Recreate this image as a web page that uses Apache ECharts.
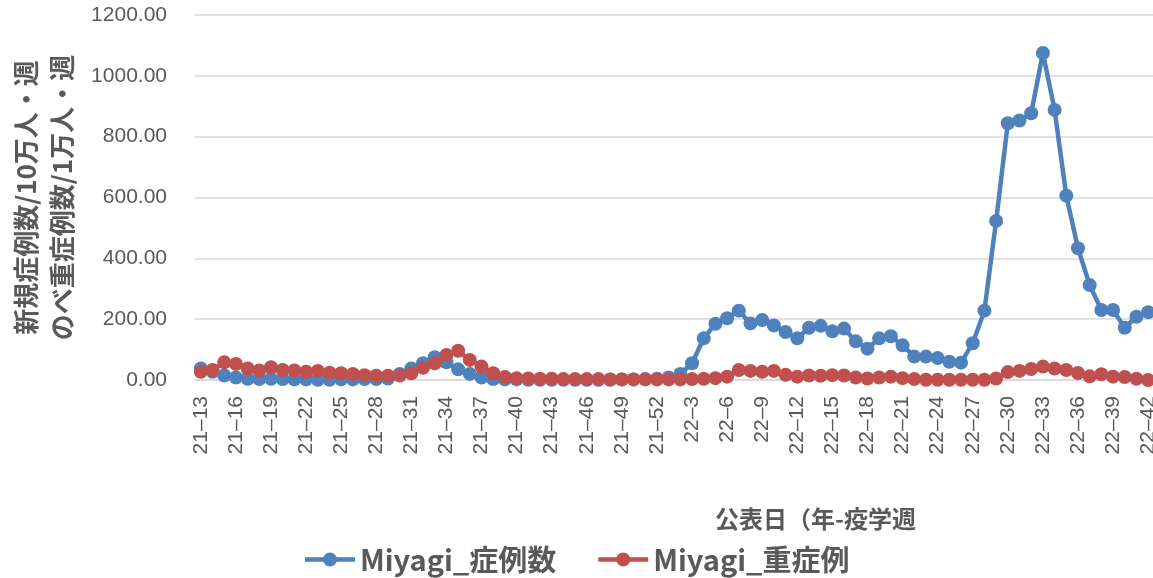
<!DOCTYPE html>
<html>
<head>
<meta charset="utf-8">
<script src="https://cdn.jsdelivr.net/npm/echarts@6/dist/echarts.min.js"></script>
<style>
html,body{margin:0;padding:0;background:#fff;}
#main{width:1153px;height:578px;}
</style>
</head>
<body>
<div id="main"></div>
<script>
// weeks: 21-13 .. 21-52, 22-1 .. 22-42
var weeks = [];
for (var w = 13; w <= 52; w++) weeks.push('21\u2013' + w);
for (var w2 = 1; w2 <= 42; w2++) weeks.push('22\u2013' + w2);

var seriesNames = ['Miyagi_症例数', 'Miyagi_重症例'];

// Miyagi_症例数 (per 100k per week)
var cases = [
  38, 27, 15, 8, 4, 3, 4, 3, 2, 2,
  1, 1, 2, 2, 3, 3, 5, 20, 38, 55,
  75, 58, 35, 20, 8, 3, 2, 2, 1, 1,
  1, 1, 1, 1, 1, 1, 2, 2, 3, 4,
  8, 20, 55, 137, 185, 203, 228, 186, 197, 179,
  158, 137, 172, 178, 160, 169, 127, 103, 137, 144,
  114, 77, 77, 72, 60, 57, 121, 228, 523, 844,
  853, 877, 1075, 888, 606, 433, 312, 230, 230, 172,
  208, 223
];

// Miyagi_重症例 (per 10k per week)
var severe = [
  27, 33, 58, 53, 38, 31, 42, 33, 31, 27,
  30, 24, 22, 20, 16, 14, 14, 15, 22, 40,
  55, 82, 96, 66, 44, 22, 10, 6, 5, 4,
  4, 3, 3, 3, 3, 2, 2, 2, 2, 2,
  2, 2, 3, 4, 6, 11, 33, 30, 27, 30,
  17, 11, 15, 14, 16, 15, 8, 5, 8, 11,
  6, 3, 1, 1, 1, 1, 1, 1, 5, 26,
  30, 36, 44, 38, 33, 23, 12, 19, 11, 10,
  4, 0
];

var yTicks = { min: 0, max: 1200, interval: 200 };

// legend icon: thick line with a dot in the middle
var lineDotIcon = 'path://M0,5.75H50V10.25H0Z M32,8A7,7 0 1 1 18,8A7,7 0 1 1 32,8Z';

var myChart = echarts.init(document.getElementById('main'));
var option = {
  animation: false,
  color: ['#4F81BD', '#C0504D'],
  textStyle: { fontFamily: "'Liberation Sans', Arial, sans-serif" },
  title: {
    text: '公表日（年-疫学週',
    left: 710,
    top: 502,
    textStyle: { fontFamily: "'Noto Sans CJK JP', sans-serif", fontSize: 24, fontWeight: 'bold', color: '#595959' }
  },
  legend: {
    data: [
      { name: seriesNames[0], icon: lineDotIcon },
      { name: seriesNames[1], icon: lineDotIcon }
    ],
    left: 300,
    top: 540,
    itemWidth: 50,
    itemHeight: 16,
    itemGap: 42,
    textStyle: { fontFamily: "'Noto Sans CJK JP', sans-serif", fontSize: 29, fontWeight: 'bold', color: '#595959' }
  },
  grid: {
    left: 195,
    top: 15,
    width: 959,
    height: 365,
    outerBoundsMode: 'none'
  },
  xAxis: {
    type: 'category',
    data: weeks,
    boundaryGap: true,
    axisLine: { lineStyle: { color: '#D9D9D9', width: 1.5 } },
    axisTick: { show: false },
    axisLabel: {
      interval: 2,
      rotate: 90,
      margin: 16,
      fontSize: 21,
      color: '#595959'
    },
    splitLine: { show: false }
  },
  yAxis: {
    type: 'value',
    min: yTicks.min,
    max: yTicks.max,
    interval: yTicks.interval,
    name: '新規症例数/10万人・週\nのべ重症例数/1万人・週',
    nameLocation: 'middle',
    nameRotate: 90,
    nameGap: 114,
    nameTextStyle: { fontFamily: "'Noto Sans CJK JP', sans-serif", fontSize: 26, fontWeight: 'bold', color: '#595959', lineHeight: 36 },
    axisLine: { show: false },
    axisTick: { show: false },
    axisLabel: {
      margin: 28,
      fontSize: 21,
      color: '#595959',
      formatter: function (v) { return v.toFixed(2); }
    },
    splitLine: { lineStyle: { color: '#D9D9D9', width: 1.5 } }
  },
  series: [
    {
      name: seriesNames[0],
      type: 'line',
      data: cases,
      symbol: 'circle',
      symbolSize: 14,
      showAllSymbol: true,
      lineStyle: { width: 4.5 },
      z: 2
    },
    {
      name: seriesNames[1],
      type: 'line',
      data: severe,
      symbol: 'circle',
      symbolSize: 14,
      showAllSymbol: true,
      lineStyle: { width: 4.5 },
      z: 3
    }
  ]
};
myChart.setOption(option);
</script>
</body>
</html>
